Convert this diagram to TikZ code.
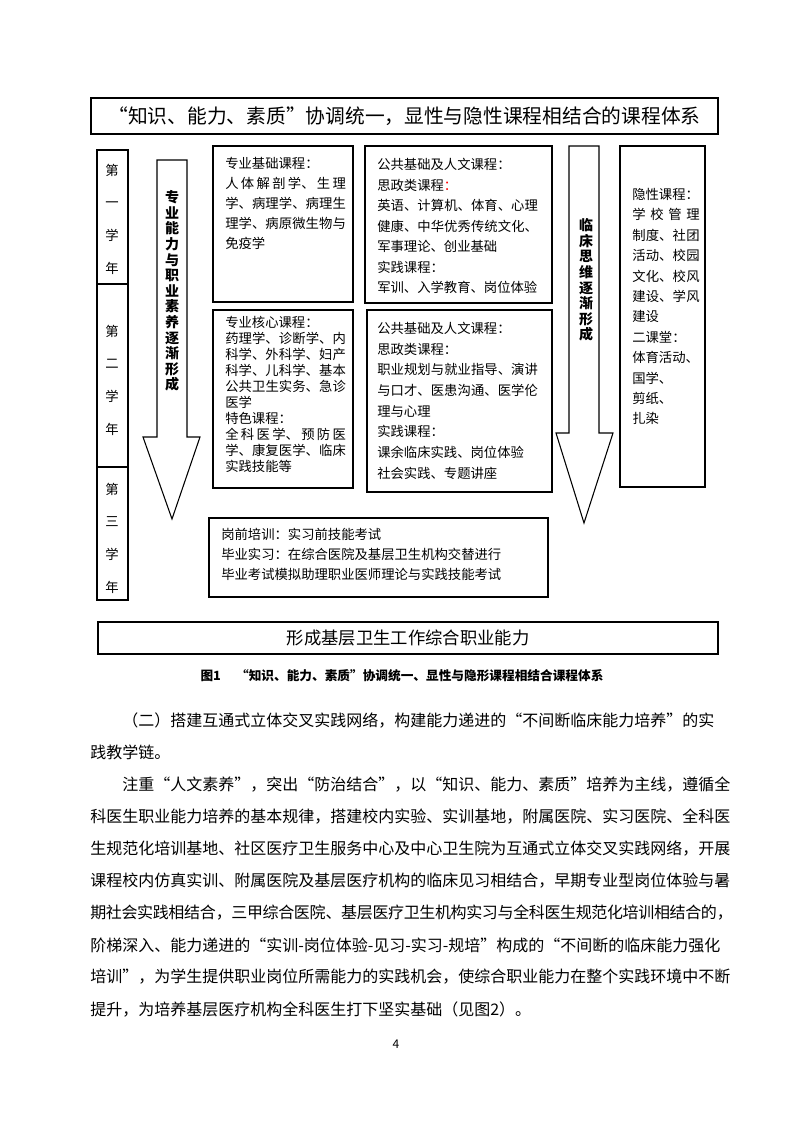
\documentclass[tikz,border=0pt]{standalone}
\usepackage{fontspec}
\setmainfont{Noto Sans CJK SC}
\usepackage{xcolor}
\usetikzlibrary{fit, positioning}
\XeTeXlinebreaklocale "zh"
\XeTeXlinebreakskip = 0pt plus 2pt minus 0.5pt
\newcommand\jline[1]{\parfillskip=0pt\relax #1}
\newcommand\sqline[1]{\XeTeXlinebreakskip=0pt plus 2pt minus 1.5pt\relax\parfillskip=0pt\relax #1}

\begin{document}
\begin{tikzpicture}[x=0.75pt, y=-0.75pt,
  frame/.style={draw, line width=0.8pt, inner sep=0pt},
  boxtext/.style={anchor=north west, inner sep=0pt, align=justify},
  yeartext/.style={inner sep=0pt, align=center, font=\fontsize{10}{24.5}\selectfont},
  fatarrow/.style={draw, line width=0.8pt, fill=white, line join=miter},
  arrowtext/.style={inner sep=0pt, align=center, font=\fontsize{10.5}{11.7}\selectfont\bfseries},
  bodyline/.style={anchor=west, inner sep=0pt, text width=482pt, align=justify, font=\fontsize{12}{14}\selectfont}]

  \fill[white] (0,0) rectangle (793,1122);
  \useasboundingbox (0,0) rectangle (793,1122);

  % title
  \node[frame, fit={(91,98) (718,134)}] (title) {};
  \node[inner sep=0pt, font=\fontsize{14.8}{16}\selectfont] (titletxt) at (title.center) {“知识、能力、素质”协调统一，显性与隐性课程相结合的课程体系};

  % years
  \node[frame, fit={(97,150) (128,284)}] (yr1) {};
  \node[frame, fit={(97,284) (128,467)}] (yr2) {};
  \node[frame, fit={(97,467) (128,600)}] (yr3) {};
  \node[yeartext] (yr1txt) at (112,219) {第\\一\\学\\年};
  \node[yeartext] (yr2txt) at (112,380) {第\\二\\学\\年};
  \node[yeartext] (yr3txt) at (112,538) {第\\三\\学\\年};

  % left arrow
  \draw[fatarrow] (157,160) -- (187,160) -- (187,437) -- (200,437) -- (172,519) -- (143,437) -- (157,437) -- cycle;
  \node[arrowtext] (skill) at (172,291) {专\\业\\能\\力\\与\\职\\业\\素\\养\\逐\\渐\\形\\成};

  % right arrow
  \draw[fatarrow] (569,146) -- (599,146) -- (599,433) -- (613,433) -- (584,523) -- (556,433) -- (569,433) -- cycle;
  \node[arrowtext] (think) at (586,280) {临\\床\\思\\维\\逐\\渐\\形\\成};

  % course boxes
  \node[frame, fit={(213,146) (353,302)}] (basic) {};
  \node[boxtext, text width=90.5pt, font=\fontsize{10}{15}\selectfont] (basictxt) at (225,157) {专业基础课程：\\
    人体解剖学、生理\linebreak
    学、病理学、病理生\linebreak
    理学、病原微生物与\linebreak
    免疫学};

  \node[frame, fit={(213,310) (353,488)}] (core) {};
  \node[boxtext, text width=90.5pt, font=\fontsize{10}{12}\selectfont] (coretxt) at (225,316) {专业核心课程：\\
    药理学、诊断学、内\linebreak
    科学、外科学、妇产\linebreak
    科学、儿科学、基本\linebreak
    公共卫生实务、急诊\linebreak
    医学\\
    特色课程：\\
    全科医学、预防医\linebreak
    学、康复医学、临床\linebreak
    实践技能等};

  \node[frame, fit={(365,146) (552,303)}] (pub1) {};
  \node[boxtext, text width=120.5pt, font=\fontsize{10}{15.4}\selectfont] (pub1txt) at (377,158) {公共基础及人文课程：\\
    思政类课程{\color{red}：}\\
    英语、计算机、体育、心理\linebreak
    健康、中华优秀传统文化、\linebreak
    军事理论、创业基础\\
    实践课程：\\
    军训、入学教育、岗位体验};

  \node[frame, fit={(367,310) (552,492)}] (pub2) {};
  \node[boxtext, text width=120.5pt, font=\fontsize{10}{15.5}\selectfont] (pub2txt) at (377,322) {公共基础及人文课程：\\
    思政类课程：\\
    职业规划与就业指导、演讲\linebreak
    与口才、医患沟通、医学伦\linebreak
    理与心理\\
    实践课程：\\
    课余临床实践、岗位体验\\
    社会实践、专题讲座};

  \node[frame, fit={(620,146) (705,487)}] (hidden) {};
  \node[boxtext, text width=50.5pt, font=\fontsize{10}{15.3}\selectfont] (hiddentxt) at (632,188) {隐性课程：\\
    学校管理\linebreak
    制度、社团\linebreak
    活动、校园\linebreak
    文化、校风\linebreak
    建设、学风\linebreak
    建设\\
    二课堂：\\
    体育活动、\\
    国学、\\
    剪纸、\\
    扎染};

  \node[frame, fit={(209,518) (548,597)}] (intern) {};
  \node[boxtext, text width=300pt, font=\fontsize{10}{15}\selectfont] (interntxt) at (221,528) {岗前培训：实习前技能考试\\
    毕业实习：在综合医院及基层卫生机构交替进行\\
    毕业考试模拟助理职业医师理论与实践技能考试};

  % result
  \node[frame, fit={(98,622) (718,654)}] (result) {};
  \node[inner sep=0pt, font=\fontsize{13}{15}\selectfont] (resulttxt) at (result.center) {形成基层卫生工作综合职业能力};

  % caption
  \node[font=\fontsize{9.5}{11}\selectfont\bfseries] (caption) at (402,676) {图1\hspace{1.2em}“知识、能力、素质”协调统一、显性与隐形课程相结合课程体系};

  % body text
  \node[bodyline] (p1) at (90,720) {\jline{\hspace*{24pt}（二）搭建互通式立体交叉实践网络，构建能力递进的“不间断临床能力培养”的实}};
  \node[bodyline] (p2) at (90,752) {践教学链。};
  \node[bodyline] (p3) at (90,785) {\jline{\hspace*{24pt}注重“人文素养”，突出“防治结合”，以“知识、能力、素质”培养为主线，遵循全}};
  \node[bodyline] (p4) at (90,817) {\jline{科医生职业能力培养的基本规律，搭建校内实验、实训基地，附属医院、实习医院、全科医}};
  \node[bodyline] (p5) at (90,849) {\jline{生规范化培训基地、社区医疗卫生服务中心及中心卫生院为互通式立体交叉实践网络，开展}};
  \node[bodyline] (p6) at (90,881) {\jline{课程校内仿真实训、附属医院及基层医疗机构的临床见习相结合，早期专业型岗位体验与暑}};
  \node[bodyline] (p7) at (90,913) {\sqline{期社会实践相结合，三甲综合医院、基层医疗卫生机构实习与全科医生规范化培训相结合的，}};
  \node[bodyline] (p8) at (90,945) {\jline{阶梯深入、能力递进的“实训-岗位体验-见习-实习-规培”构成的“不间断的临床能力强化}};
  \node[bodyline] (p9) at (90,977) {\jline{培训”，为学生提供职业岗位所需能力的实践机会，使综合职业能力在整个实践环境中不断}};
  \node[bodyline] (p10) at (90,1009) {提升，为培养基层医疗机构全科医生打下坚实基础（见图2）。};

  \node[font=\fontsize{9}{10}\selectfont] (pageno) at (396,1044) {4};
\end{tikzpicture}
\end{document}
